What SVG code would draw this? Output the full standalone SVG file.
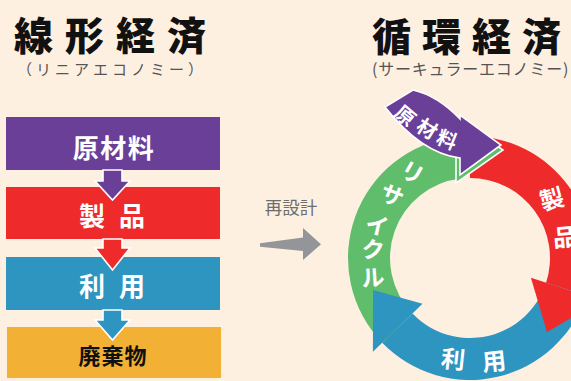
<svg xmlns="http://www.w3.org/2000/svg" width="571" height="381" viewBox="0 0 571 381">
<style>
.t{font-family:"Noto Sans CJK JP","Noto Sans",sans-serif;font-weight:bold}
.title{font-size:39px;fill:#111;font-weight:900}
.sub{font-size:15px;fill:#555;font-weight:normal}
.box{font-size:26px;fill:#fff;text-anchor:middle}
.ring{font-size:23px;fill:#fff;text-anchor:middle}
.wh{stroke:#fff;stroke-width:1.6;stroke-linejoin:miter}
</style>
<rect width="571" height="381" fill="#fdf0e1"/>
<g id="title-linear">
<text class="t title" x="14" y="50" letter-spacing="12">線形経済</text>
<text class="t sub" x="17" y="75" letter-spacing="4">（リニアエコノミー）</text>
</g>
<g id="title-circular">
<text class="t title" x="372" y="51" letter-spacing="11">循環経済</text>
<text class="t sub" x="372" y="75" style="font-size:16px" letter-spacing="0.8">(サーキュラーエコノミー)</text>
</g>
<g id="node-raw">
<rect x="6" y="117" width="214" height="53" fill="#6a3f98"/>
<text class="t box" x="114" y="158" letter-spacing="1.5">原材料</text>
</g>
<g id="node-product">
<rect x="6" y="187" width="214" height="52" fill="#ee2a2a"/>
<text class="t box" x="114" y="226" letter-spacing="4">製 品</text>
</g>
<g id="node-use">
<rect x="6" y="257" width="214" height="53" fill="#2e94c0"/>
<text class="t box" x="114" y="296" letter-spacing="4">利 用</text>
</g>
<g id="node-waste">
<rect x="7" y="327" width="214" height="51" fill="#f2b134"/>
<text class="t box" x="113" y="364" style="font-size:22px;fill:#111" letter-spacing="1">廃棄物</text>
</g>
<g id="connectors">
<path d="M103,170 H122 V181 H130 L112.5,200 L95,181 H103 Z" fill="#6a3f98" class="wh"/>
<path d="M103,239 H122 V248 H130 L112.5,270 L95,248 H103 Z" fill="#ee2a2a" class="wh"/>
<path d="M103,310 H122 V320 H130 L112.5,340 L95,320 H103 Z" fill="#2e94c0" class="wh"/>
<polygon points="260,243.3 303,237.5 303,228 321,244.3 303,260 303,251 260,246.7" fill="#939598"/>
</g>
<text class="t" x="291" y="214" text-anchor="middle" style="font-size:17.5px;fill:#6d6d6d;font-weight:normal">再設計</text>
<g id="cycle">
<path id="ring-red" d="M470,136 A122,122 0 0 1 586.0,295.7 L546.1,282.7 A80,80 0 0 0 470,178 Z" fill="#ee2a2a"/>
<path id="ring-blue" d="M586.0,295.7 A122,122 0 0 1 382.2,342.7 L412.5,313.6 A80,80 0 0 0 546.1,282.7 Z" fill="#2e94c0"/>
<path id="ring-green" d="M382.2,342.7 A122,122 0 0 1 456.2,136.8 L460.9,178.5 A80,80 0 0 0 412.5,313.6 Z" fill="#5fbd6c"/>
<polygon points="530.9,277.8 601.2,300.6 547,332" fill="#ee2a2a"/>
<polygon points="422.5,303.8 372.9,351.8 373,290" fill="#2e94c0"/>
<polygon points="456,117 503,150 456,183" fill="#5fbd6c" class="wh"/>
</g>
<g id="node-raw-cycle">
<path d="M385,107 L413,90 Q437.5,95.5 460,119 L460,115 L501,145 L460,175 L460,158 Q421.5,153.5 385,107 Z" fill="#6a3f98" class="wh"/>
<text class="t" style="font-size:20px;fill:#fff" text-anchor="middle" transform="translate(405,116) rotate(40)" y="7">原</text>
<text class="t" style="font-size:20px;fill:#fff" text-anchor="middle" transform="translate(427,129) rotate(32)" y="7">材</text>
<text class="t" style="font-size:20px;fill:#fff" text-anchor="middle" transform="translate(447,140) rotate(22)" y="7">料</text>
</g>
<g id="node-recycle">
<text class="t ring" transform="translate(412,173) rotate(30)" y="8">リ</text>
<text class="t ring" transform="translate(392,196) rotate(22)" y="8">サ</text>
<text class="t ring" transform="translate(377,226) rotate(12)" y="8">イ</text>
<text class="t ring" transform="translate(373,250) rotate(4)" y="8">ク</text>
<text class="t ring" transform="translate(373,278) rotate(-4)" y="8">ル</text>
</g>
<g id="node-product-cycle">
<text class="t ring" style="font-size:24px" transform="translate(552,200) rotate(-15)" y="8">製</text>
<text class="t ring" style="font-size:24px" transform="translate(565,238) rotate(-5)" y="8">品</text>
</g>
<g id="node-use-cycle">
<text class="t ring" style="font-size:24px" transform="translate(453,360) rotate(6)" y="8">利</text>
<text class="t ring" style="font-size:24px" transform="translate(494,362) rotate(-6)" y="8">用</text>
</g>
</svg>
